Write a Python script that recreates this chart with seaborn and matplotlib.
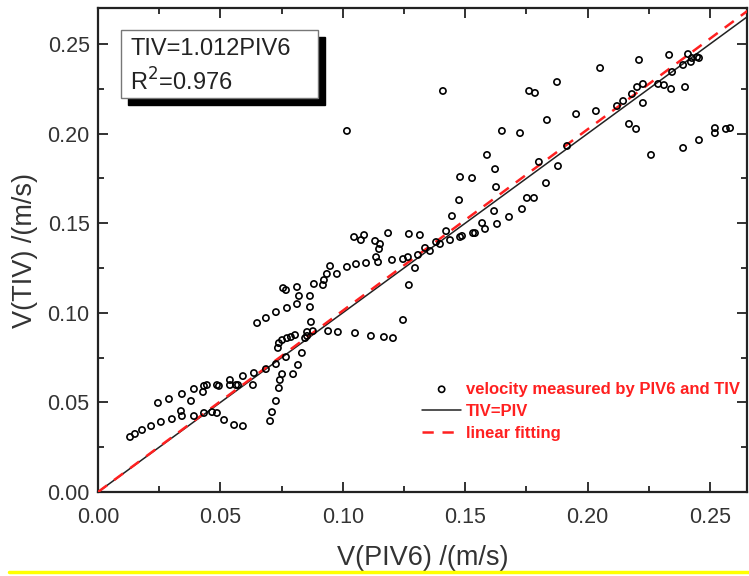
import numpy as np
import pandas as pd
import seaborn as sns
import matplotlib
matplotlib.use("Agg")
import matplotlib.pyplot as plt
from matplotlib.patches import Rectangle
from matplotlib.lines import Line2D
from matplotlib.ticker import MultipleLocator, FormatStrFormatter

# measured velocities (m/s): PIV6 on x, TIV on y
piv6 = [0.0131, 0.0151, 0.0180, 0.0217, 0.0257, 0.0302, 0.0343, 0.0339, 0.0392, 0.0433,
        0.0466, 0.0486, 0.0515, 0.0556, 0.0592, 0.0245, 0.0290, 0.0343, 0.0380, 0.0392,
        0.0429, 0.0433, 0.0445, 0.0486, 0.0494, 0.0539, 0.0539, 0.0564, 0.0572, 0.0592,
        0.0633, 0.0637, 0.0686, 0.0727, 0.0650, 0.0686, 0.0727, 0.0772, 0.0756, 0.0768,
        0.0735, 0.0739, 0.0752, 0.0772, 0.0752, 0.0743, 0.0739, 0.0727, 0.0711, 0.0703,
        0.0813, 0.0821, 0.0866, 0.0813, 0.0866, 0.0882, 0.0919, 0.0923, 0.0935, 0.0948,
        0.0976, 0.1017, 0.1054, 0.1095, 0.1046, 0.1074, 0.1087, 0.1132, 0.1152, 0.1148,
        0.1136, 0.1144, 0.1185, 0.1201, 0.1246, 0.1266, 0.1270, 0.1315, 0.1295, 0.1270,
        0.1307, 0.1336, 0.1356, 0.1381, 0.1397, 0.1422, 0.1438, 0.1446, 0.1479, 0.1487,
        0.1532, 0.1540, 0.1569, 0.1581, 0.1618, 0.1630, 0.1475, 0.0870, 0.0854, 0.0878,
        0.0940, 0.0980, 0.1050, 0.1115, 0.1168, 0.1205, 0.1246, 0.0805, 0.0788, 0.0846,
        0.0854, 0.0833, 0.0817, 0.0797, 0.0768, 0.1409, 0.1017, 0.1479, 0.1528, 0.1589,
        0.1622, 0.1626, 0.1679, 0.1732, 0.1752, 0.1781, 0.1801, 0.1830, 0.1879, 0.2051,
        0.1875, 0.1761, 0.1785, 0.2210, 0.1650, 0.1724, 0.1834, 0.1953, 0.2034, 0.1916,
        0.2120, 0.2145, 0.2181, 0.2202, 0.2226, 0.2226, 0.2169, 0.2198, 0.2259, 0.2288,
        0.2312, 0.2341, 0.2398, 0.2345, 0.2390, 0.2422, 0.2447, 0.2455, 0.2410, 0.2333,
        0.2426, 0.2390, 0.2455, 0.2520, 0.2520, 0.2565, 0.2582]
tiv = [0.0307, 0.0324, 0.0346, 0.0368, 0.0391, 0.0407, 0.0424, 0.0452, 0.0424, 0.0441,
       0.0446, 0.0441, 0.0402, 0.0374, 0.0368, 0.0497, 0.0519, 0.0547, 0.0508, 0.0575,
       0.0558, 0.0592, 0.0597, 0.0597, 0.0592, 0.0625, 0.0597, 0.0597, 0.0597, 0.0647,
       0.0597, 0.0664, 0.0686, 0.0714, 0.0943, 0.0971, 0.1004, 0.1027, 0.1138, 0.1127,
       0.0804, 0.0831, 0.0848, 0.0859, 0.0658, 0.0625, 0.0580, 0.0508, 0.0446, 0.0396,
       0.1144, 0.1094, 0.1094, 0.1049, 0.1032, 0.1161, 0.1155, 0.1183, 0.1217, 0.1261,
       0.1217, 0.1256, 0.1272, 0.1278, 0.1423, 0.1406, 0.1434, 0.1401, 0.1384, 0.1356,
       0.1311, 0.1283, 0.1445, 0.1295, 0.1300, 0.1311, 0.1440, 0.1434, 0.1250, 0.1155,
       0.1323, 0.1362, 0.1345, 0.1395, 0.1384, 0.1456, 0.1406, 0.1540, 0.1423, 0.1429,
       0.1445, 0.1445, 0.1501, 0.1468, 0.1568, 0.1496, 0.1629, 0.0949, 0.0893, 0.0898,
       0.0898, 0.0893, 0.0887, 0.0871, 0.0865, 0.0859, 0.0960, 0.0876, 0.0865, 0.0859,
       0.0871, 0.0776, 0.0709, 0.0658, 0.0753, 0.2238, 0.2015, 0.1758, 0.1752, 0.1881,
       0.1802, 0.1702, 0.1535, 0.1579, 0.1641, 0.1641, 0.1842, 0.1724, 0.1819, 0.2366,
       0.2288, 0.2238, 0.2227, 0.2411, 0.2015, 0.2003, 0.2076, 0.2109, 0.2126, 0.1931,
       0.2154, 0.2182, 0.2221, 0.2260, 0.2277, 0.2171, 0.2054, 0.2026, 0.1881, 0.2277,
       0.2271, 0.2249, 0.2260, 0.2344, 0.2383, 0.2400, 0.2427, 0.2422, 0.2444, 0.2439,
       0.2422, 0.1920, 0.1964, 0.2031, 0.2003, 0.2026, 0.2031]

slope = 1.012
r2 = 0.976
line_x = [0.0, 0.27]

df = pd.DataFrame({"PIV6": piv6, "TIV": tiv})

sns.set_style("ticks")
plt.rcParams["font.family"] = ["Liberation Sans", "DejaVu Sans"]
plt.rcParams["xtick.direction"] = "in"
plt.rcParams["ytick.direction"] = "in"

fig = plt.figure(figsize=(7.49, 5.76), dpi=100)
ax = fig.add_axes([0.1308, 0.1458, 0.8665, 0.8403])

red = "#ff2020"
ax.plot(line_x, line_x, color="#222222", lw=1.1, label="TIV=PIV", zorder=2)
ax.plot(line_x, [slope * v for v in line_x], color=red, lw=1.8, ls=(0, (4.5, 3.5)),
        label="linear fitting", zorder=3)
sns.scatterplot(data=df, x="PIV6", y="TIV", ax=ax, marker="o", s=20,
                facecolor="none", edgecolor="black", linewidth=1.2,
                label="velocity measured by PIV6 and TIV", zorder=4)

ax.set_xlim(0, 0.2651)
ax.set_ylim(0, 0.2701)
ax.xaxis.set_major_locator(MultipleLocator(0.05))
ax.xaxis.set_minor_locator(MultipleLocator(0.025))
ax.yaxis.set_major_locator(MultipleLocator(0.05))
ax.yaxis.set_minor_locator(MultipleLocator(0.025))
ax.xaxis.set_major_formatter(FormatStrFormatter("%.2f"))
ax.yaxis.set_major_formatter(FormatStrFormatter("%.2f"))
ax.tick_params(which="both", top=True, right=True, width=1.3, colors="#222222",
               labelsize=15.5, labelcolor="#333333")
ax.tick_params(which="major", length=7)
ax.tick_params(which="minor", length=4)
ax.tick_params(axis="x", which="major", pad=11)
ax.tick_params(axis="y", which="major", pad=6)
for sp in ax.spines.values():
    sp.set_linewidth(1.6)
    sp.set_color("#222222")

ax.set_xlabel("V(PIV6) /(m/s)", fontsize=19.5, color="#333333", labelpad=12)
ax.set_ylabel("V(TIV) /(m/s)", fontsize=19.5, color="#333333", labelpad=7)

# equation box with drop shadow
ax.add_patch(Rectangle((0.046, 0.80), 0.304, 0.141, transform=ax.transAxes,
                       facecolor="black", edgecolor="black", zorder=5))
ax.add_patch(Rectangle((0.035, 0.814), 0.304, 0.141, transform=ax.transAxes,
                       facecolor="white", edgecolor="#777777", lw=1.0, zorder=6))
ax.text(0.050, 0.915, "TIV=%.3fPIV6" % slope, transform=ax.transAxes, fontsize=17,
        va="center", ha="left", color="#222222", zorder=7)
ax.text(0.050, 0.848, "R$^2$=%.3f" % r2, transform=ax.transAxes, fontsize=17,
        va="center", ha="left", color="#222222", zorder=7)

h, l = ax.get_legend_handles_labels()
order = [l.index("velocity measured by PIV6 and TIV"), l.index("TIV=PIV"), l.index("linear fitting")]
leg = ax.legend([h[i] for i in order], [l[i] for i in order], loc="upper left",
                bbox_to_anchor=(0.50, 0.228), frameon=False, borderpad=0,
                borderaxespad=0, handlelength=2.3, handletextpad=0.3,
                labelspacing=0.42, prop={"size": 12, "weight": "bold"})
for t in leg.get_texts():
    t.set_color(red)

fig.add_artist(Line2D([0.012, 1.0], [0.007, 0.007], transform=fig.transFigure,
                      color="#ffff00", lw=2.5))

fig.savefig("out.png", dpi=100, facecolor="white")
